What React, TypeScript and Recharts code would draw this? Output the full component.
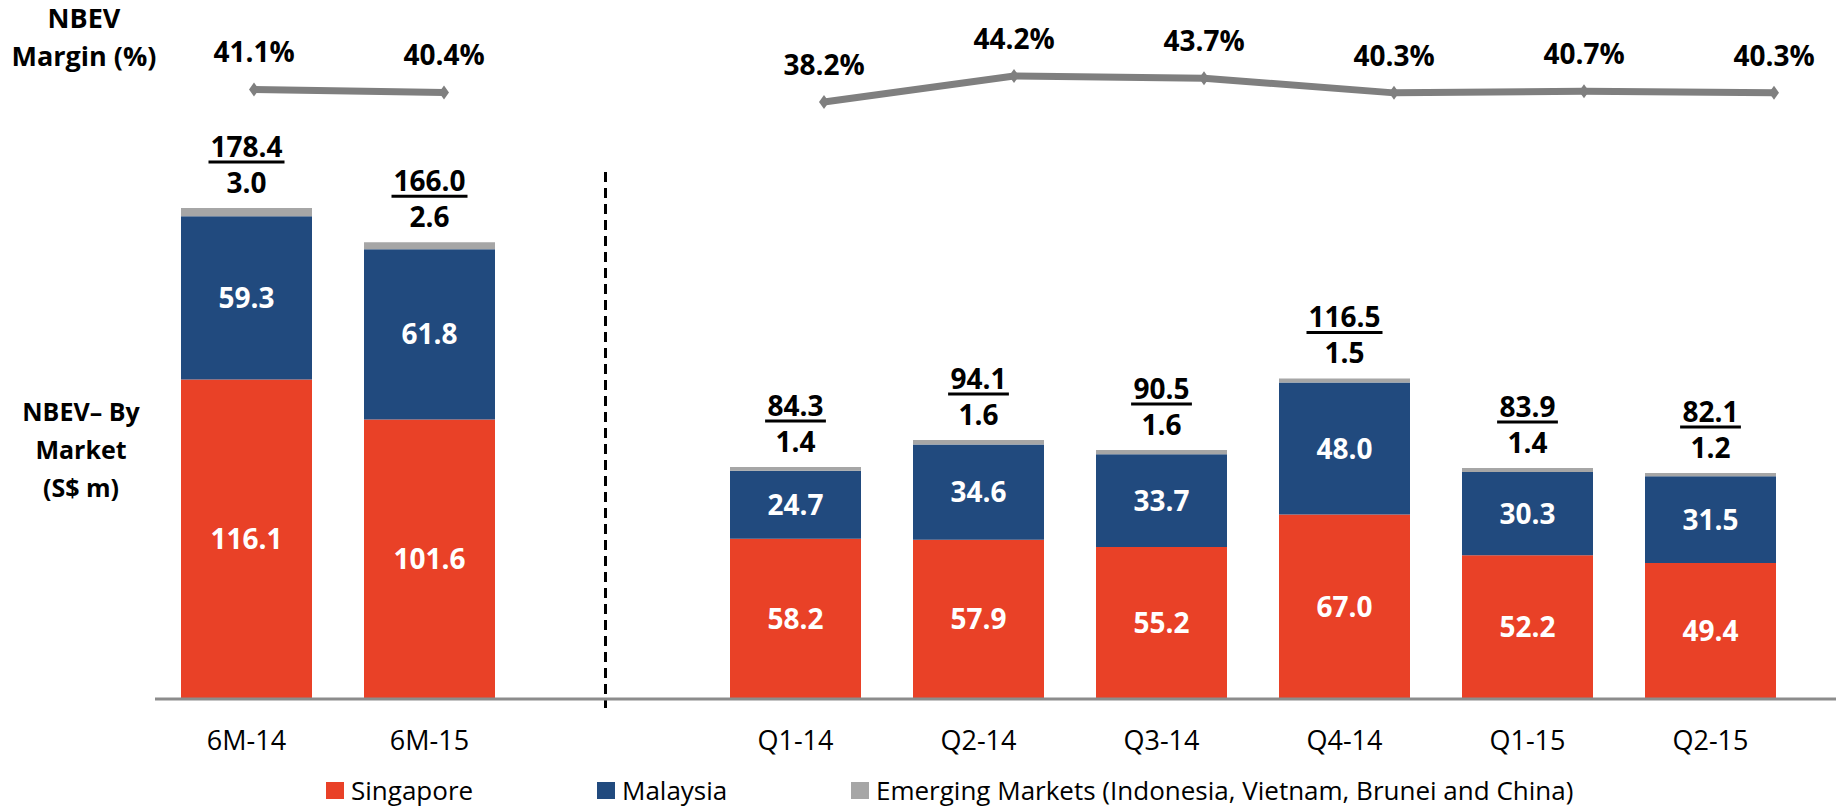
import { ComposedChart, Bar, Line, XAxis, YAxis, LabelList, Legend, ReferenceLine } from "recharts";

const categories = ["6M-14", "6M-15", " ", "Q1-14", "Q2-14", "Q3-14", "Q4-14", "Q1-15", "Q2-15"];
const singapore = [116.1, 101.6, null, 58.2, 57.9, 55.2, 67.0, 52.2, 49.4];
const malaysia = [59.3, 61.8, null, 24.7, 34.6, 33.7, 48.0, 30.3, 31.5];
const emerging = [3.0, 2.6, null, 1.4, 1.6, 1.6, 1.5, 1.4, 1.2];
const totals = [178.4, 166.0, null, 84.3, 94.1, 90.5, 116.5, 83.9, 82.1];
const nbevMargin = [41.1, 40.4, null, 38.2, 44.2, 43.7, 40.3, 40.7, 40.3];
const seriesNames = ["Singapore", "Malaysia", "Emerging Markets (Indonesia, Vietnam, Brunei and China)"];

const data = categories.map((cat, i) => ({
  cat,
  singapore: singapore[i],
  malaysia: malaysia[i],
  emerging: emerging[i],
  total: totals[i],
  margin: nbevMargin[i],
}));

const FONT = "'Open Sans', 'DejaVu Sans', sans-serif";
const RED = "#E94127";
const BLUE = "#214A7E";
const GREY = "#A6A6A6";
const LINE_GREY = "#7F7F7F";

const fmt = (v: any) => (v == null ? "" : Number(v).toFixed(1));

// black value just above the grey segment
const EmergingLabel = (props: any) => {
  const { x, y, width, value } = props;
  if (value == null) return null;
  return (
    <text x={x + width / 2} y={y - 25 + 10} textAnchor="middle" fontFamily={FONT} fontSize={28} fontWeight={700} fill="#000">
      {fmt(value)}
    </text>
  );
};

// underlined total above that
const TotalLabel = (props: any) => {
  const { x, y, width, value } = props;
  if (value == null) return null;
  const cx = x + width / 2;
  const w = String(fmt(value)).length * 15.2;
  return (
    <g>
      <text x={cx} y={y - 61 + 10} textAnchor="middle" fontFamily={FONT} fontSize={28} fontWeight={700} fill="#000">
        {fmt(value)}
      </text>
      <line x1={cx - w / 2} x2={cx + w / 2} y1={y - 61 + 15} y2={y - 61 + 15} stroke="#000" strokeWidth={3} />
    </g>
  );
};

const PctLabel = (props: any) => {
  const { x, y, value } = props;
  if (value == null) return null;
  return (
    <text x={x} y={y - 37 + 10} textAnchor="middle" fontFamily={FONT} fontSize={28} fontWeight={700} fill="#000">
      {fmt(value)}%
    </text>
  );
};

const Diamond = (props: any) => {
  const { cx, cy, value } = props;
  if (value == null || cx == null || cy == null) return null;
  return <polygon points={`${cx},${cy - 7} ${cx + 5},${cy} ${cx},${cy + 7} ${cx - 5},${cy}`} fill={LINE_GREY} />;
};

const legendWidths = [271, 254, 760];

const LegendContent = (props: any) => {
  const items = (props.payload || [])
    .filter((p: any) => seriesNames.includes(p.value))
    .sort((a: any, b: any) => seriesNames.indexOf(a.value) - seriesNames.indexOf(b.value));
  return (
    <div style={{ display: "flex", alignItems: "center", paddingLeft: 326, height: 36, fontFamily: FONT, fontSize: 26, color: "#000" }}>
      {items.map((p: any, i: number) => (
        <div key={p.value} style={{ display: "flex", alignItems: "center", width: legendWidths[i], whiteSpace: "nowrap" }}>
          <span style={{ display: "inline-block", width: 18, height: 17, background: p.color, marginRight: 7, flex: "none" }} />
          <span>{p.value}</span>
        </div>
      ))}
    </div>
  );
};

const DashedDivider = (props: any) => {
  const { x1, y1, x2, y2 } = props;
  return <line x1={x1 - 7} y1={y1} x2={x2 - 7} y2={y2} stroke="#000" strokeWidth={3} strokeDasharray="10 6" />;
};

export default function App() {
  return (
    <div style={{ position: "absolute", left: 0, top: 0, width: 1836, height: 806, background: "#fff", fontFamily: FONT }}>
      <div style={{ position: "absolute", left: 0, top: -1, width: 168, textAlign: "center", fontSize: 27, fontWeight: 700, lineHeight: "38px", color: "#000" }}>
        NBEV
        <br />
        Margin (%)
      </div>
      <div style={{ position: "absolute", left: 0, top: 392, width: 162, textAlign: "center", fontSize: 25, fontWeight: 700, lineHeight: "38px", color: "#000" }}>
        NBEV– By
        <br />
        Market
        <br />
        (S$ m)
      </div>
      <ComposedChart width={1836} height={806} data={data} margin={{ top: 0, right: 0, left: 155, bottom: 0 }}>
        <XAxis
          xAxisId="bar"
          dataKey="cat"
          height={107}
          padding={{ left: 0, right: 34 }}
          axisLine={{ stroke: "#8C8C8C", strokeWidth: 3 }}
          tickLine={false}
          tickSize={0}
          tickMargin={32}
          interval={0}
          tick={{ fill: "#000", fontSize: 27, fontFamily: FONT }}
        />
        <XAxis xAxisId="line" dataKey="cat" scale="point" padding={{ left: 99, right: 62 }} hide />
        <YAxis yAxisId="bar" domain={[0, 254]} allowDataOverflow hide />
        <YAxis yAxisId="pct" domain={[-99.7, 61.75]} allowDataOverflow hide />
        <Legend layout="horizontal" verticalAlign="middle" wrapperStyle={{ top: 772, left: 0, width: 1836 }} content={<LegendContent />} />
        <ReferenceLine
          xAxisId="bar"
          yAxisId="bar"
          ifOverflow="visible"
          segment={[{ x: " ", y: 191.5 }, { x: " ", y: -3.3 }]}
          shape={<DashedDivider />}
        />
        <Bar xAxisId="bar" yAxisId="bar" dataKey="singapore" name={seriesNames[0]} stackId="s" fill={RED} barSize={131} isAnimationActive={false}>
          <LabelList dataKey="singapore" position="center" fill="#fff" fontSize={28} fontWeight={700} fontFamily={FONT} formatter={fmt} />
        </Bar>
        <Bar xAxisId="bar" yAxisId="bar" dataKey="malaysia" name={seriesNames[1]} stackId="s" fill={BLUE} barSize={131} isAnimationActive={false}>
          <LabelList dataKey="malaysia" position="center" fill="#fff" fontSize={28} fontWeight={700} fontFamily={FONT} formatter={fmt} />
        </Bar>
        <Bar xAxisId="bar" yAxisId="bar" dataKey="emerging" name={seriesNames[2]} stackId="s" fill={GREY} barSize={131} isAnimationActive={false}>
          <LabelList dataKey="emerging" content={<EmergingLabel />} />
          <LabelList dataKey="total" content={<TotalLabel />} />
        </Bar>
        <Line
          xAxisId="line"
          yAxisId="pct"
          dataKey="margin"
          stroke={LINE_GREY}
          strokeWidth={7}
          dot={<Diamond />}
          activeDot={false}
          legendType="none"
          isAnimationActive={false}
        >
          <LabelList dataKey="margin" content={<PctLabel />} />
        </Line>
      </ComposedChart>
    </div>
  );
}
